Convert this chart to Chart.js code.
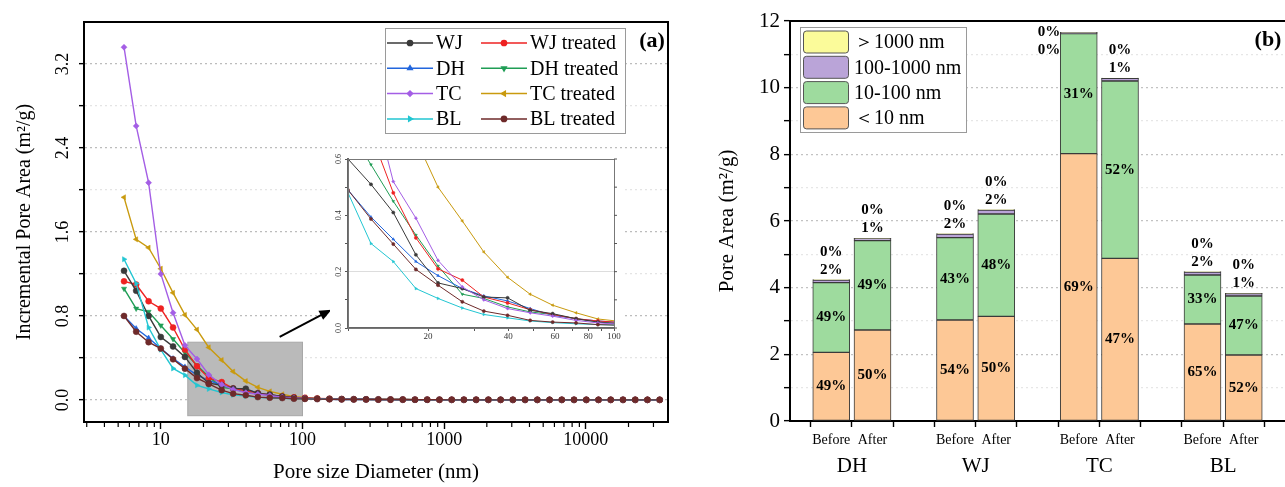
<!DOCTYPE html>
<html>
<head>
<meta charset="utf-8">
<script src="https://cdn.jsdelivr.net/npm/chart.js@4.4.0/dist/chart.umd.min.js"></script>
<style>
html, body { margin: 0; padding: 0; background: #fff; overflow: hidden; width: 1285px; height: 487px; }
#wrapA { position: absolute; left: 0; top: 0; }
#wrapB { position: absolute; left: 690px; top: 0; }
#wrapI { position: absolute; left: 330px; top: 152px; }
</style>
</head>
<body>
<div id="wrapA"><canvas id="chartA" width="690" height="487"></canvas></div>
<div id="wrapB"><canvas id="chartB" width="600" height="487"></canvas></div>
<div id="wrapI"><canvas id="inset" width="292" height="190"></canvas></div>
<script>
// ---- panel (a) data : incremental pore area vs pore diameter ----
const poreSize = [5.5, 6.7, 8.2, 10, 12.2, 14.8, 18, 21.8, 26.9, 32.4, 39.8, 48.4, 58.8, 72, 87, 104,
  127, 155, 189, 230, 281, 343, 418, 510, 622, 759, 926, 1130, 1378, 1681, 2051, 2502, 3053, 3724,
  4544, 5543, 6763, 8251, 10070, 12280, 14980, 18280, 22300, 27200, 33200];
const wj = [1.23, 1.04, 0.80, 0.60, 0.51, 0.41, 0.26, 0.16, 0.14, 0.11, 0.107, 0.063, 0.051, 0.033, 0.021, 0.015,
  0.012, 0.010, 0.008, 0.007, 0.006, 0.005, 0.004, 0.004, 0.003, 0.003, 0.003, 0.002, 0.002, 0.002, 0.002, 0.002,
  0.001, 0.001, 0.001, 0.001, 0.001, 0.001, 0.001, 0.001, 0.001, 0.001, 0.001, 0.001, 0.001];
const wjTreated = [1.13, 1.10, 0.94, 0.87, 0.69, 0.48, 0.32, 0.21, 0.17, 0.11, 0.089, 0.065, 0.048, 0.033, 0.025, 0.020,
  0.015, 0.012, 0.009, 0.007, 0.006, 0.005, 0.004, 0.004, 0.003, 0.003, 0.002, 0.002, 0.002, 0.002, 0.002,
  0.001, 0.001, 0.001, 0.001, 0.001, 0.001, 0.001, 0.001, 0.001, 0.001, 0.001, 0.001, 0.001, 0.001];
const dh = [0.80, 0.68, 0.59, 0.49, 0.394, 0.315, 0.236, 0.186, 0.14, 0.114, 0.096, 0.069, 0.045, 0.033, 0.025, 0.020,
  0.012, 0.010, 0.008, 0.007, 0.006, 0.005, 0.004, 0.004, 0.003, 0.003, 0.003, 0.002, 0.002, 0.002, 0.002, 0.002,
  0.001, 0.001, 0.001, 0.001, 0.001, 0.001, 0.001, 0.001, 0.001, 0.001, 0.001, 0.001, 0.001];
const dhTreated = [1.06, 0.87, 0.84, 0.71, 0.58, 0.45, 0.33, 0.22, 0.12, 0.105, 0.075, 0.057, 0.048, 0.033, 0.021, 0.016,
  0.012, 0.010, 0.008, 0.007, 0.006, 0.005, 0.004, 0.004, 0.003, 0.003, 0.003, 0.002, 0.002, 0.002, 0.002, 0.002,
  0.001, 0.001, 0.001, 0.001, 0.001, 0.001, 0.001, 0.001, 0.001, 0.001, 0.001, 0.001, 0.001];
const tc = [3.36, 2.61, 2.07, 1.20, 0.83, 0.52, 0.39, 0.24, 0.146, 0.10, 0.069, 0.054, 0.042, 0.027, 0.018, 0.014,
  0.008, 0.006, 0.005, 0.004, 0.004, 0.003, 0.003, 0.002, 0.002, 0.002, 0.002,
  0.001, 0.001, 0.001, 0.001, 0.001, 0.001, 0.001, 0.001, 0.001, 0.001, 0.001, 0.001, 0.001, 0.001, 0.001, 0.001, 0.001, 0.001];
const tcTreated = [1.93, 1.53, 1.45, 1.25, 1.02, 0.81, 0.67, 0.50, 0.38, 0.27, 0.18, 0.12, 0.081, 0.054, 0.032, 0.024,
  0.015, 0.012, 0.009, 0.007, 0.006, 0.005, 0.004, 0.004, 0.003, 0.003, 0.002, 0.002, 0.002, 0.002, 0.002,
  0.001, 0.001, 0.001, 0.001, 0.001, 0.001, 0.001, 0.001, 0.001, 0.001, 0.001, 0.001, 0.001, 0.001];
const bl = [1.34, 1.11, 0.69, 0.48, 0.30, 0.236, 0.14, 0.105, 0.071, 0.048, 0.036, 0.025, 0.019, 0.015, 0.012, 0.010,
  0.008, 0.006, 0.005, 0.004, 0.004, 0.003, 0.003, 0.002, 0.002, 0.002, 0.002,
  0.001, 0.001, 0.001, 0.001, 0.001, 0.001, 0.001, 0.001, 0.001, 0.001, 0.001, 0.001, 0.001, 0.001, 0.001, 0.001, 0.001, 0.001];
const blTreated = [0.80, 0.65, 0.55, 0.49, 0.387, 0.298, 0.208, 0.152, 0.093, 0.06, 0.045, 0.027, 0.021, 0.018, 0.012, 0.010,
  0.008, 0.006, 0.005, 0.004, 0.004, 0.003, 0.003, 0.002, 0.002, 0.002, 0.002,
  0.001, 0.001, 0.001, 0.001, 0.001, 0.001, 0.001, 0.001, 0.001, 0.001, 0.001, 0.001, 0.001, 0.001, 0.001, 0.001, 0.001, 0.001];

const seriesNames = ['WJ', 'WJ treated', 'DH', 'DH treated', 'TC', 'TC treated', 'BL', 'BL treated'];
const seriesValues = [wj, wjTreated, dh, dhTreated, tc, tcTreated, bl, blTreated];

const xLabelsA = [10, 100, 1000, 10000];
const yLabelsA = [0, 0.8, 1.6, 2.4, 3.2];
const yGridA = [0, 0.4, 0.8, 1.2, 1.6, 2.0, 2.4, 2.8, 3.2];
const insetXLabels = [20, 40, 60, 80, 100];
const insetYLabels = [0, 0.2, 0.4, 0.6];

// ---- panel (b) data : pore area by size class ----
const groups = ['DH', 'WJ', 'TC', 'BL'];
const stageLabels = ['', 'Before', 'After', '', 'Before', 'After', '', 'Before', 'After', '', 'Before', 'After', ''];
const below10 = [null, 2.06, 2.73, null, 3.03, 3.14, null, 8.02, 4.88, null, 2.91, 1.98, null];
const from10to100 = [null, 2.09, 2.68, null, 2.47, 3.07, null, 3.60, 5.32, null, 1.47, 1.77, null];
const from100to1000 = [null, 0.08, 0.06, null, 0.11, 0.12, null, 0.03, 0.08, null, 0.09, 0.07, null];
const above1000 = [null, 0.01, 0.01, null, 0.01, 0.01, null, 0.01, 0.01, null, 0.01, 0.01, null];
const pctBelow10 = ['', '49%', '50%', '', '54%', '50%', '', '69%', '47%', '', '65%', '52%', ''];
const pct10to100 = ['', '49%', '49%', '', '43%', '48%', '', '31%', '52%', '', '33%', '47%', ''];
const pct100to1000 = ['', '2%', '1%', '', '2%', '2%', '', '0%', '1%', '', '2%', '1%', ''];
const pctAbove1000 = ['', '0%', '0%', '', '0%', '0%', '', '0%', '0%', '', '0%', '0%', ''];
const yLabelsB = [0, 2, 4, 6, 8, 10, 12];

// ---- styles ----
const serif = '"Liberation Serif", "Times New Roman", serif';
Chart.defaults.font.family = serif;
Chart.defaults.color = '#000';

const seriesColors = ['#3a3a3a', '#ee2222', '#2266dd', '#1f9d55', '#a45ee5', '#c99a0e', '#22c6d2', '#6e2a2a'];
const markerStyles = ['circle', 'circle', 'triangle', 'triangle', 'rectRot', 'triangle', 'triangle', 'circle'];
const markerRotation = [0, 0, 0, 180, 0, 270, 90, 0];
const drawOrder = [3, 4, 5, 6, 2, 7, 1, 0];

const zoomBox = [15.5, 100, -0.15, 0.55];

function lineSets(radius, width) {
    return seriesNames.map((name, k) => ({
        label: name,
        data: poreSize.map((x, i) => ({x: x, y: seriesValues[k][i]})),
        borderColor: seriesColors[k],
        backgroundColor: seriesColors[k],
        pointStyle: markerStyles[k],
        pointRotation: markerRotation[k],
        pointRadius: radius,
        pointBorderWidth: 0.5,
        borderWidth: width,
        tension: 0,
        order: drawOrder[k]
    }));
}

function isLabel(list, v) {
    return list.some(t => Math.abs(t - v) < 1e-6);
}

function logTicks(min, max) {
    let out = [];
    for (let p = 1; p <= 100000; p *= 10) {
        for (let m = 1; m < 10; m++) {
            let v = m * p;
            if (v >= min && v <= max) out.push({value: v});
        }
    }
    return out;
}

function marker(ctx, k, x, y, r) {
    ctx.fillStyle = seriesColors[k];
    ctx.strokeStyle = seriesColors[k];
    if (Chart.helpers && Chart.helpers.drawPoint) {
        Chart.helpers.drawPoint(ctx, {pointStyle: markerStyles[k], rotation: markerRotation[k], radius: r, borderWidth: 0.5}, x, y);
    } else {
        ctx.beginPath(); ctx.arc(x, y, r, 0, Math.PI * 2); ctx.fill();
    }
}

// ---- panel (a) decorations ----
const panelA = {
    id: 'panelA',
    beforeDatasetsDraw(chart) {
        const {ctx, scales: {x, y}} = chart;
        let l = x.getPixelForValue(zoomBox[0]), r = x.getPixelForValue(zoomBox[1]);
        let t = y.getPixelForValue(zoomBox[3]), b = y.getPixelForValue(zoomBox[2]);
        ctx.save();
        ctx.fillStyle = '#bababa';
        ctx.fillRect(l, t, r - l, b - t);
        ctx.strokeStyle = '#a8a8a8';
        ctx.lineWidth = 1;
        ctx.strokeRect(l, t, r - l, b - t);
        ctx.restore();
    },
    afterDraw(chart) {
        const {ctx, chartArea: a, scales: {x, y}} = chart;
        ctx.save();
        // frame
        ctx.strokeStyle = '#000';
        ctx.lineWidth = 2;
        ctx.beginPath();
        ctx.moveTo(a.left, a.top); ctx.lineTo(a.right, a.top); ctx.lineTo(a.right, a.bottom);
        ctx.stroke();
        // minor x ticks
        ctx.lineWidth = 1.2;
        x.ticks.forEach(t => {
            if (isLabel(xLabelsA, t.value)) return;
            let px = x.getPixelForValue(t.value);
            ctx.beginPath(); ctx.moveTo(px, a.bottom + 1); ctx.lineTo(px, a.bottom + 5); ctx.stroke();
        });
        // arrow to the inset
        let x0 = x.getPixelForValue(69), y0 = y.getPixelForValue(0.6);
        let x1 = x.getPixelForValue(160), y1 = y.getPixelForValue(0.86);
        let ang = Math.atan2(y1 - y0, x1 - x0);
        ctx.lineWidth = 2;
        ctx.beginPath(); ctx.moveTo(x0, y0); ctx.lineTo(x1 - 8 * Math.cos(ang), y1 - 8 * Math.sin(ang)); ctx.stroke();
        ctx.fillStyle = '#000';
        ctx.beginPath();
        ctx.moveTo(x1, y1);
        ctx.lineTo(x1 - 12 * Math.cos(ang) + 5 * Math.sin(ang), y1 - 12 * Math.sin(ang) - 5 * Math.cos(ang));
        ctx.lineTo(x1 - 12 * Math.cos(ang) - 5 * Math.sin(ang), y1 - 12 * Math.sin(ang) + 5 * Math.cos(ang));
        ctx.closePath(); ctx.fill();
        // legend
        ctx.fillStyle = '#fff';
        ctx.fillRect(385, 28, 240, 105);
        ctx.strokeStyle = '#9a9a9a';
        ctx.lineWidth = 1;
        ctx.strokeRect(385.5, 28.5, 240, 105);
        ctx.font = '20px ' + serif;
        ctx.textBaseline = 'middle';
        ctx.textAlign = 'left';
        for (let k = 0; k < seriesNames.length; k++) {
            let row = Math.floor(k / 2), col = k % 2;
            let ly = 43 + row * 25.3;
            let lx = col === 0 ? 387 : 481;
            ctx.strokeStyle = seriesColors[k];
            ctx.lineWidth = 1.5;
            ctx.beginPath(); ctx.moveTo(lx, ly); ctx.lineTo(lx + 46, ly); ctx.stroke();
            marker(ctx, k, lx + 23, ly, 2.6);
            ctx.fillStyle = '#000';
            ctx.fillText(seriesNames[k], lx + 49, ly + 1);
        }
        ctx.font = 'bold 22px ' + serif;
        ctx.textAlign = 'center';
        ctx.fillText('(a)', 652, 41);
        ctx.restore();
    }
};

new Chart(document.getElementById('chartA'), {
    type: 'line',
    data: {datasets: lineSets(3, 1.4)},
    options: {
        responsive: false,
        animation: false,
        layout: {padding: {left: 0, right: 22, top: 22, bottom: 0}},
        plugins: {legend: {display: false}, tooltip: {enabled: false}},
        scales: {
            x: {
                type: 'logarithmic',
                min: 2.87,
                max: 38000,
                afterBuildTicks: s => { s.ticks = logTicks(2.87, 38000); },
                afterFit: s => { s.height = 65; },
                border: {color: '#000', width: 2},
                grid: {
                    drawOnChartArea: false,
                    tickLength: 7,
                    tickWidth: 1.4,
                    tickColor: c => (c.tick && isLabel(xLabelsA, c.tick.value)) ? '#000' : 'rgba(0,0,0,0)'
                },
                ticks: {
                    autoSkip: false, maxRotation: 0, padding: 0,
                    font: {family: serif, size: 18},
                    callback: v => isLabel(xLabelsA, v) ? String(v) : ''
                },
                title: {display: true, text: 'Pore size Diameter (nm)', font: {family: serif, size: 21}, padding: {top: 0, bottom: 2}}
            },
            y: {
                min: -0.21,
                max: 3.6,
                afterBuildTicks: s => { s.ticks = yGridA.map(v => ({value: v})); },
                afterFit: s => { s.width = 84; },
                border: {color: '#000', width: 2, dash: [2, 3]},
                grid: {
                    color: c => (c.tick && isLabel(yLabelsA, c.tick.value)) ? '#bcbcbc' : '#e4e4e4',
                    lineWidth: 1.3,
                    tickLength: 5,
                    tickColor: '#000',
                    tickWidth: 1.4
                },
                ticks: {
                    minRotation: 90, maxRotation: 90, crossAlign: 'center', padding: 4,
                    font: {family: serif, size: 18},
                    callback: v => isLabel(yLabelsA, v) ? v.toFixed(1) : ''
                },
                title: {display: true, text: 'Incremental Pore Area (m²/g)', font: {family: serif, size: 20}, padding: {top: 13, bottom: 0}}
            }
        }
    },
    plugins: [panelA]
});

// ---- inset ----
const insetDeco = {
    id: 'insetDeco',
    beforeDraw(chart) {
        const ctx = chart.ctx;
        ctx.save();
        ctx.fillStyle = '#fff';
        ctx.fillRect(0, 0, chart.width, chart.height);
        ctx.restore();
    },
    afterDraw(chart) {
        const {ctx, chartArea: a, scales: {y}} = chart;
        ctx.save();
        ctx.strokeStyle = '#777';
        ctx.lineWidth = 1;
        ctx.strokeRect(a.left + 0.5, a.top + 0.5, a.right - a.left, a.bottom - a.top);
        ctx.strokeStyle = '#555';
        y.ticks.forEach(t => {
            let py = y.getPixelForValue(t.value);
            ctx.beginPath(); ctx.moveTo(a.right, py); ctx.lineTo(a.right + 3, py); ctx.stroke();
        });
        ctx.restore();
    }
};

new Chart(document.getElementById('inset'), {
    type: 'line',
    data: {datasets: lineSets(1.6, 1)},
    options: {
        responsive: false,
        animation: false,
        layout: {padding: {left: 0, right: 8, top: 7, bottom: 0}},
        plugins: {legend: {display: false}, tooltip: {enabled: false}},
        scales: {
            x: {
                type: 'logarithmic', min: 10, max: 100,
                afterBuildTicks: s => { s.ticks = logTicks(10, 100); },
                afterFit: s => { s.height = 14; },
                border: {color: '#666', width: 1.5},
                grid: {drawOnChartArea: false, tickLength: 3, tickColor: '#555'},
                ticks: {
                    autoSkip: false, maxRotation: 0, padding: 0,
                    font: {family: serif, size: 9}, color: '#333',
                    callback: v => isLabel(insetXLabels, v) ? String(v) : ''
                }
            },
            y: {
                min: 0, max: 0.6,
                afterBuildTicks: s => { s.ticks = [0, 0.1, 0.2, 0.3, 0.4, 0.5, 0.6].map(v => ({value: v})); },
                afterFit: s => { s.width = 18; },
                border: {color: '#666', width: 2},
                grid: {
                    color: c => (c.tick && Math.abs(c.tick.value - 0.2) < 1e-6) ? '#dddddd' : 'rgba(0,0,0,0)',
                    tickLength: 3, tickColor: '#555'
                },
                ticks: {
                    minRotation: 90, maxRotation: 90, crossAlign: 'center', padding: 1,
                    font: {family: serif, size: 8}, color: '#333',
                    callback: v => isLabel(insetYLabels, v) ? v.toFixed(1) : ''
                }
            }
        }
    },
    plugins: [insetDeco]
});

// ---- panel (b) ----
const barFill = ['#fdc896', '#9edb9e', '#baa4d8', '#fbfb9a'];
const barNames = ['<10 nm', '10-100 nm', '100-1000 nm', '>1000 nm'];
const legendNamesB = ['＞1000 nm', '100-1000 nm', '10-100 nm', '＜10 nm'];

const panelB = {
    id: 'panelB',
    afterDatasetsDraw(chart) {
        const {ctx, chartArea: a} = chart;
        const inside = [pctBelow10, pct10to100];
        ctx.save();
        ctx.fillStyle = '#000';
        ctx.font = 'bold 15px ' + serif;
        ctx.textBaseline = 'middle';
        ctx.textAlign = 'center';
        inside.forEach((labels, d) => {
            chart.getDatasetMeta(d).data.forEach((bar, i) => {
                if (!labels[i]) return;
                ctx.fillText(labels[i], bar.x, (bar.y + bar.base) / 2);
            });
        });
        const topMeta = chart.getDatasetMeta(3).data;
        topMeta.forEach((bar, i) => {
            if (!pctAbove1000[i]) return;
            let top = bar.y;
            if (top - 36 < a.top) {
                ctx.textAlign = 'right';
                let lx = bar.x - 18.5;
                ctx.fillText(pctAbove1000[i], lx, top);
                ctx.fillText(pct100to1000[i], lx, top + 18);
            } else {
                ctx.textAlign = 'center';
                ctx.fillText(pct100to1000[i], bar.x, top - 10);
                ctx.fillText(pctAbove1000[i], bar.x, top - 28);
            }
        });
        ctx.restore();
    },
    afterDraw(chart) {
        const {ctx, chartArea: a, scales: {x}} = chart;
        ctx.save();
        ctx.strokeStyle = '#000';
        ctx.lineWidth = 2;
        ctx.beginPath(); ctx.moveTo(a.left, a.top); ctx.lineTo(a.right, a.top); ctx.stroke();
        // group names under the Before / After pairs
        ctx.fillStyle = '#000';
        ctx.font = '21px ' + serif;
        ctx.textAlign = 'center';
        ctx.textBaseline = 'middle';
        groups.forEach((g, j) => {
            let px = (x.getPixelForValue(1 + 3 * j) + x.getPixelForValue(2 + 3 * j)) / 2;
            ctx.fillText(g, px, 466);
        });
        // legend
        ctx.fillStyle = '#fff';
        ctx.fillRect(110, 27, 166, 105);
        ctx.strokeStyle = '#9a9a9a';
        ctx.lineWidth = 1;
        ctx.strokeRect(110.5, 27.5, 166, 105);
        ctx.font = '20px ' + serif;
        ctx.textAlign = 'left';
        legendNamesB.forEach((name, r) => {
            let ly = 42 + r * 25.3;
            ctx.fillStyle = barFill[3 - r];
            ctx.strokeStyle = '#555';
            ctx.beginPath();
            ctx.roundRect(113.5, ly - 11, 45, 22, 3);
            ctx.fill(); ctx.stroke();
            ctx.fillStyle = '#000';
            ctx.fillText(name, 164, ly + 1);
        });
        ctx.font = 'bold 22px ' + serif;
        ctx.textAlign = 'center';
        ctx.fillText('(b)', 578, 40);
        ctx.restore();
    }
};

const barValues = [below10, from10to100, from100to1000, above1000];

new Chart(document.getElementById('chartB'), {
    type: 'bar',
    data: {
        labels: stageLabels,
        datasets: barValues.map((vals, d) => ({
            label: barNames[d],
            data: vals,
            backgroundColor: barFill[d],
            borderColor: '#3a3a3a',
            borderWidth: 1,
            borderSkipped: false,
            barThickness: 37
        }))
    },
    options: {
        responsive: false,
        animation: false,
        layout: {padding: {left: 0, right: 0, top: 21, bottom: 0}},
        plugins: {legend: {display: false}, tooltip: {enabled: false}},
        scales: {
            x: {
                stacked: true,
                offset: false,
                afterFit: s => { s.height = 66; },
                border: {color: '#000', width: 2},
                grid: {drawOnChartArea: false, tickLength: 6, tickColor: '#000', tickWidth: 1.4},
                ticks: {autoSkip: false, maxRotation: 0, padding: 5, font: {family: serif, size: 14}}
            },
            y: {
                stacked: true,
                min: 0,
                max: 12,
                ticks: {
                    stepSize: 1, padding: 4,
                    font: {family: serif, size: 21},
                    callback: v => isLabel(yLabelsB, v) ? String(v) : ''
                },
                afterFit: s => { s.width = 100; },
                border: {color: '#000', width: 2, dash: [2, 3]},
                grid: {
                    color: c => (c.tick && isLabel(yLabelsB, c.tick.value)) ? '#c2c2c2' : '#e6e6e6',
                    lineWidth: 1.3,
                    tickLength: 6, tickColor: '#000', tickWidth: 1.4
                },
                title: {display: true, text: 'Pore Area (m²/g)', font: {family: serif, size: 21}, padding: {top: 25, bottom: 0}}
            }
        }
    },
    plugins: [panelB]
});
</script>
</body>
</html>
